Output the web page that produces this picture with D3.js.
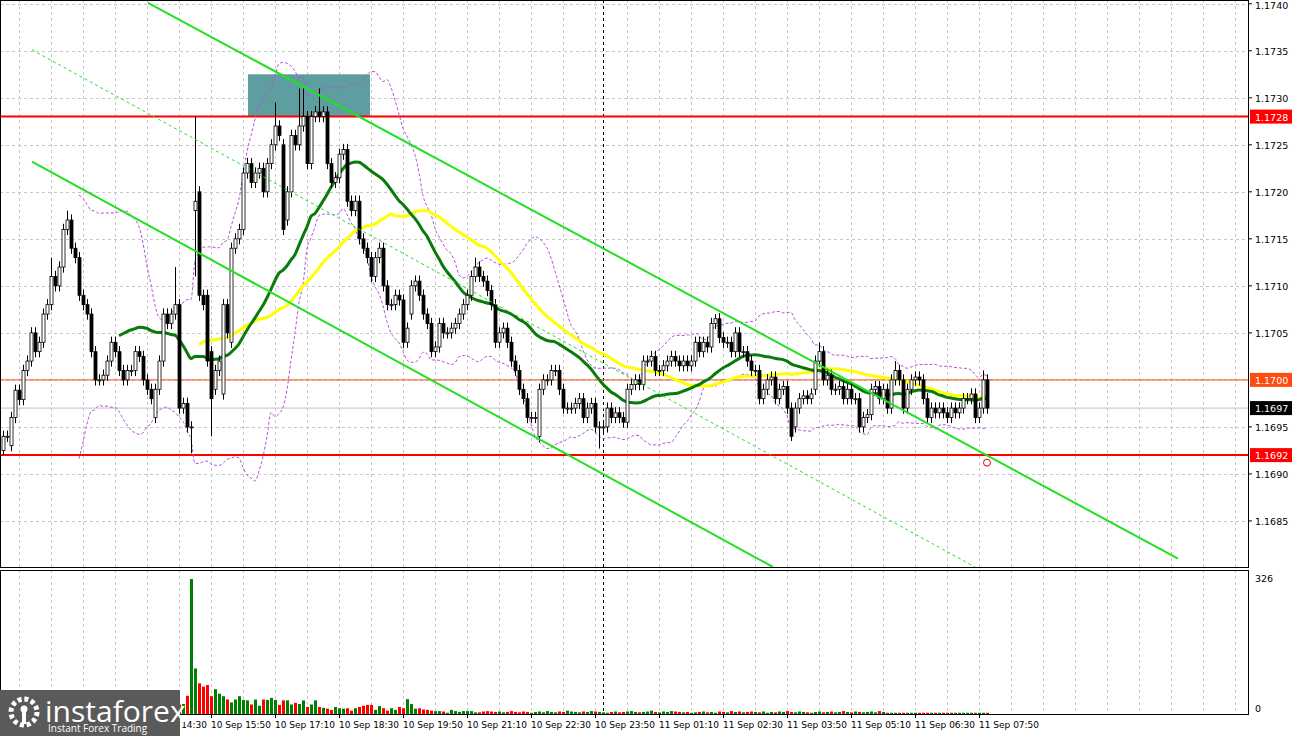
<!DOCTYPE html>
<html>
<head>
<meta charset="utf-8">
<script src="https://cdn.jsdelivr.net/npm/d3@7/dist/d3.min.js"></script>
<style>
  body { margin: 0; background: #fff; }
  svg { display: block; font-family: "DejaVu Sans", sans-serif; }
</style>
</head>
<body>
<div id="chart"></div>
<script>
// M5 candles, closes in pips above 1.1600
const closePips = [
  94,94,96,98.9,97.9,101,102,105,103,104,
  107,108,111,110,112,116,117,114,113,109,
  108,107,103,100,100,100.5,102,104,103,101,
  100,101,101,103,102.5,100,99,98,99,102,
  107,106,107,108,97,97.5,95,95,119,109,
  108,102,98,101,102,108,105,114,115,116,
  122,123,121,122,122.5,120,123,125,127,126,
  116,120,126,125,127,128,123,128,128.5,128,
  128.5,123,121,121.5,124,124.5,119,118,119,115,
  114,113,111,113,114,110,108,108,109,108.5,
  104,105.5,110,110.5,109,107,106,103,103.5,106,
  105,105,105.5,106,107,108,109,111,112,111,
  110.5,109.5,108,104,105,105.5,104,102,101,99,
  98,96,96,96,99,100,100,101,101,99,
  97,97,97,97.5,98,96,97,97.5,95,95,
  95,97,96,96.5,96,95.5,99,99.5,100,99.5,
  102,102,102.5,101,101,101.5,102,102.5,102,101.5,
  102,101.5,102,104,103,104,103.5,106,106.5,104.5,
  104,104,103,105,103,103,102,101,101,98,
  99,100,100.3,98,99,99.3,97,94,97,98,
  98.3,98,98.5,102,103,100,100.5,99,99,99.3,
  98,99,98,98,95,96,96.3,99,99.3,98,
  99,97,100,101,100,97,99,100,100.3,100,
  98,96,97,96.5,97,96.5,96,97,96.5,97,
  98,98,98.5,96,97,100,97
];
// [bar, open] where the open is not the previous close
const gapOpens = [[0,92.5],[2,93],[38,96],[48,118],[49,120],[51,109],[52,103],[53,99],[55,98.5],[57,104],[70,125],[71,117],[102,107],[134,94],[198,95],[203,99]];
// [bar, high, low] for long wicks
const longWicks = [[0,null,92],[12,113,null],[16,118,null],[43,112,null],[47,null,92.2],[48,128,111],[52,null,94],[68,129.5,null],
  [74,131,null],[75,131,null],[79,131,null],[118,113,null],[149,null,92.7],[178,107,null],[197,null,93.5],[204,104,null],[223,102,null],[245,101,null]];
const volumes = [
  10,8,9,12,10,8,11,9,10,12,9,8,10,11,9,12,10,9,8,10,11,12,9,10,8,9,11,10,12,9,10,8,9,11,12,10,9,8,10,14,12,10,11,14,
  23,24,44,326,110,74,66,70,43,60,49,43,35,28,35,43,34,33,23,35,20,35,34,39,34,22,33,33,23,27,24,33,17,23,33,17,15,13,10,17,
  14,13,14,8,14,17,20,22,22,10,19,14,8,14,10,17,14,36,24,13,14,11,10,8,7,7,6,3,10,7,5,7,7,7,4,4,6,7,6,
  5,6,4,5,7,5,4,6,5,3,5,6,4,7,5,4,6,5,8,6,5,4,6,5,7,6,5,4,3,5,6,4,5,6,7,5,4,5,6,8,5,4,6,5,7,6,5,4,5,3,
  4,5,6,4,5,3,6,5,4,7,5,6,4,5,6,5,4,6,3,5,4,6,5,7,5,4,6,5,4,3,5,6,4,5,6,4,5,7,5,4,6,5,4,5,6,4,7,5
];
const timeLabels = ["10 Sep 14:30","10 Sep 15:50","10 Sep 17:10","10 Sep 18:30","10 Sep 19:50","10 Sep 21:10","10 Sep 22:30",
  "10 Sep 23:50","11 Sep 01:10","11 Sep 02:30","11 Sep 03:50","11 Sep 05:10","11 Sep 06:30","11 Sep 07:50"];
const priceTicks = [1.1740,1.1735,1.1730,1.1725,1.1720,1.1715,1.1710,1.1705,1.1695,1.1690,1.1685];
const levels = [{p:1.1728,c:"#ff0000",w:2},{p:1.1692,c:"#ff0000",w:2},{p:1.1700,c:"#ff4a10",w:1},{p:1.1697,c:"#c0c0c0",w:1,tag:"#000"}];
// trend channel: [bar, pips] endpoints
const channels = [
  {a:[36.25,140.1], b:[293.75,81], dash:null, w:2},
  {a:[7.25,123.2], b:[192.5,80.1], dash:null, w:2},
  {a:[7.25,135.1], b:[243,80.1], dash:"3,3", w:1}
];
const zone = {i0:61.25, i1:91.75, top:132.5, bottom:128};

const W = 1292, H = 736;
const plotR = 1248, mainTop = 0, mainBot = 567, volTop = 570, volBot = 714;
const toPrice = p => 1.16 + p / 10000;

const bars = closePips.map((c, i) => {
  const g = gapOpens.find(d => d[0] === i);
  const o = g ? g[1] : (i ? closePips[i - 1] : c);
  const w = longWicks.find(d => d[0] === i);
  let hi = Math.max(o, c) + 0.6, lo = Math.min(o, c) - 0.6;
  if (w && w[1] != null) hi = w[1];
  if (w && w[2] != null) lo = w[2];
  return { i, o: toPrice(o), c: toPrice(c), h: toPrice(hi), l: toPrice(lo), v: volumes[i] || 3 };
});

const x = d3.scaleLinear().domain([0, 311.25]).range([3, plotR]);
const y = d3.scaleLinear().domain([1.16801, 1.17404]).range([mainBot, mainTop]);
const yv = d3.scaleLinear().domain([0, 326]).range([volBot, 579]);

const svg = d3.select("#chart").append("svg").attr("width", W).attr("height", H);

// grid
const gridX = d3.range(4, 312, 8);
svg.append("g").selectAll("line").data(gridX).join("line")
  .attr("x1", d => x(d) + 0.5).attr("x2", d => x(d) + 0.5).attr("y1", 0).attr("y2", volBot)
  .attr("stroke", "#c8c8c8").attr("stroke-dasharray", "3,3");
svg.append("g").selectAll("line").data(d3.range(1.1685, 1.17401, 0.0005)).join("line")
  .attr("x1", 0).attr("x2", plotR).attr("y1", d => Math.round(y(d)) + 0.5).attr("y2", d => Math.round(y(d)) + 0.5)
  .attr("stroke", "#c8c8c8").attr("stroke-dasharray", "3,3");

// session separator
svg.append("line").attr("x1", x(150) + 0.5).attr("x2", x(150) + 0.5).attr("y1", 0).attr("y2", volBot)
  .attr("stroke", "#000").attr("stroke-dasharray", "3,3");

// zone
svg.append("rect").attr("x", x(zone.i0)).attr("width", x(zone.i1) - x(zone.i0))
  .attr("y", y(toPrice(zone.top))).attr("height", y(toPrice(zone.bottom)) - y(toPrice(zone.top)))
  .attr("fill", "#5f9ea0");

// levels
levels.forEach(l => {
  svg.append("line").attr("x1", 0).attr("x2", plotR).attr("y1", y(l.p)).attr("y2", y(l.p))
    .attr("stroke", l.c).attr("stroke-width", l.w);
});

// indicators
const sma = n => bars.map((b, i) => {
  if (i < n - 1) return null;
  return { i, v: d3.mean(bars.slice(i - n + 1, i + 1), d => d.c) };
}).filter(d => d);
const bb = bars.map((b, i) => {
  if (i < 19) return null;
  const s = bars.slice(i - 19, i + 1).map(d => d.c);
  const m = d3.mean(s), sd = d3.deviation(s) * Math.sqrt(19 / 20);
  return { i, up: m + 2 * sd, dn: m - 2 * sd };
}).filter(d => d);
const lineGen = acc => d3.line().x(d => x(d.i)).y(d => y(acc(d))).curve(d3.curveMonotoneX);
["up", "dn"].forEach(k => svg.append("path").datum(bb).attr("d", lineGen(d => d[k]))
  .attr("fill", "none").attr("stroke", "#b550d8").attr("stroke-dasharray", "3,2"));
svg.append("path").datum(sma(50)).attr("d", lineGen(d => d.v))
  .attr("fill", "none").attr("stroke", "#ffff00").attr("stroke-width", 3);
svg.append("path").datum(sma(30)).attr("d", lineGen(d => d.v))
  .attr("fill", "none").attr("stroke", "#0a7a0a").attr("stroke-width", 3);

// candles
const cg = svg.append("g");
cg.selectAll("line").data(bars).join("line")
  .attr("x1", d => x(d.i) + 0.5).attr("x2", d => x(d.i) + 0.5)
  .attr("y1", d => y(d.h)).attr("y2", d => y(d.l)).attr("stroke", "#000");
cg.selectAll("rect").data(bars).join("rect")
  .attr("x", d => x(d.i) - 1).attr("width", 3)
  .attr("y", d => y(Math.max(d.o, d.c))).attr("height", d => Math.max(1, Math.abs(y(d.o) - y(d.c))))
  .attr("fill", d => d.c >= d.o ? "#fff" : "#000").attr("stroke", "#000").attr("stroke-width", 0.8);

// channels
channels.forEach(c => {
  svg.append("line").attr("x1", x(c.a[0])).attr("y1", y(toPrice(c.a[1])))
    .attr("x2", x(c.b[0])).attr("y2", y(toPrice(c.b[1])))
    .attr("stroke", "#22e022").attr("stroke-width", c.w).attr("stroke-dasharray", c.dash);
});
svg.append("circle").attr("cx", x(246)).attr("cy", y(toPrice(91.2))).attr("r", 3.5)
  .attr("fill", "none").attr("stroke", "#e00000");

// volumes
svg.append("g").selectAll("rect").data(bars).join("rect")
  .attr("x", d => x(d.i) - 1).attr("width", 3)
  .attr("y", d => yv(d.v)).attr("height", d => volBot - yv(d.v))
  .attr("fill", d => d.c >= d.o ? "#008000" : "#ff0000");

// frames
svg.append("rect").attr("x", 0.5).attr("y", 0.5).attr("width", plotR).attr("height", mainBot)
  .attr("fill", "none").attr("stroke", "#000");
svg.append("rect").attr("x", 0.5).attr("y", volTop + 0.5).attr("width", plotR).attr("height", volBot - volTop)
  .attr("fill", "none").attr("stroke", "#000");

// price axis
const ax = svg.append("g").attr("font-size", 9.5);
priceTicks.forEach(p => {
  ax.append("line").attr("x1", plotR).attr("x2", plotR + 4).attr("y1", y(p)).attr("y2", y(p)).attr("stroke", "#000");
  ax.append("text").attr("x", plotR + 7).attr("y", Math.max(9, y(p) + 4)).text(p.toFixed(4));
});
levels.forEach(l => {
  ax.append("rect").attr("x", plotR + 2).attr("y", y(l.p) - 7).attr("width", 42).attr("height", 14)
    .attr("fill", l.tag || l.c);
  ax.append("text").attr("x", plotR + 7).attr("y", y(l.p) + 4).attr("fill", "#fff").text(l.p.toFixed(4));
});
ax.append("text").attr("x", plotR + 7).attr("y", 582).text("326");
ax.append("text").attr("x", plotR + 7).attr("y", 712).text("0");

// time axis
const tg = svg.append("g").attr("font-size", 9);
timeLabels.forEach((t, k) => {
  const xi = x(36 + 16 * k);
  tg.append("line").attr("x1", xi + 0.5).attr("x2", xi + 0.5).attr("y1", volBot).attr("y2", volBot + 4).attr("stroke", "#000");
  tg.append("text").attr("x", xi).attr("y", 728).text(t);
});

// logo
const lg = svg.append("g");
lg.append("rect").attr("x", 0).attr("y", 690).attr("width", 180).attr("height", 46).attr("fill", "#5a5a5a");
lg.append("circle").attr("cx", 24).attr("cy", 712).attr("r", 13).attr("fill", "none")
  .attr("stroke", "#fff").attr("stroke-width", 5).attr("stroke-dasharray", "4,2.8");
lg.append("circle").attr("cx", 24).attr("cy", 709).attr("r", 3.5).attr("fill", "#fff");
lg.append("rect").attr("x", 22).attr("y", 712).attr("width", 4).attr("height", 12).attr("fill", "#fff");
lg.append("text").attr("x", 45).attr("y", 722).attr("fill", "#fff").attr("font-size", 30)
  .attr("font-family", "Open Sans, sans-serif").text("instaforex");
lg.append("text").attr("x", 48).attr("y", 732).attr("fill", "#fff").attr("font-size", 10)
  .attr("font-family", "Open Sans, sans-serif").text("Instant Forex Trading");
</script>
</body>
</html>
